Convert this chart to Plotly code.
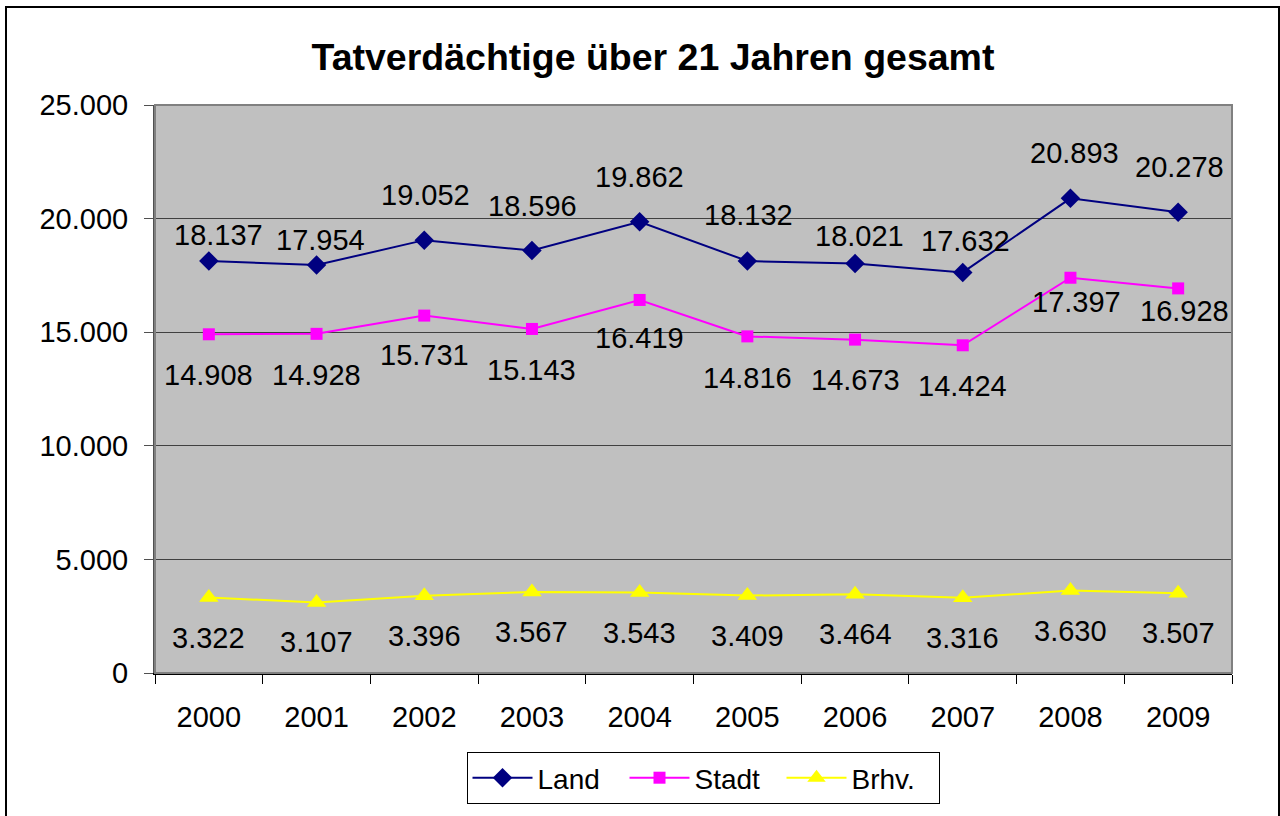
import plotly.graph_objects as go

# Jahre und Fallzahlen
years = ["2000", "2001", "2002", "2003", "2004", "2005", "2006", "2007", "2008", "2009"]
land = [18137, 17954, 19052, 18596, 19862, 18132, 18021, 17632, 20893, 20278]
stadt = [14908, 14928, 15731, 15143, 16419, 14816, 14673, 14424, 17397, 16928]
brhv = [3322, 3107, 3396, 3567, 3543, 3409, 3464, 3316, 3630, 3507]

# Vertikaler Abstand der Datenbeschriftungen zum Punkt (Pixel)
land_label_dy = [26, 25, 45, 45, 45, 46, 28, 31, 45, 45]
land_label_dx = [10, 4, 1, 1, 0, 1, 4, 3, 4, 1]
stadt_label_dy = [-41, -41, -39, -41, -38, -42, -40, -41, -24, -23]
stadt_label_dx = [0, 0, 0, 0, 0, 0, 0, 0, 6, 6]
brhv_label_dy = -40

FONT = "Liberation Sans, Arial, sans-serif"
LABEL_SIZE = 29

# Plotbereich in Pixeln
W, H = 1280, 816
L, R, T, B = 155, 1232, 105, 673
PW, PH = R - L, B - T


def px_x(x):
    return (x - L) / PW


def px_y(y):
    return (B - y) / PH


def fmt(v):
    return f"{v:,}".replace(",", ".")


fig = go.Figure()

series = [
    ("Land", land, "#000080", "diamond", 15),
    ("Stadt", stadt, "#FF00FF", "square", 12),
    ("Brhv.", brhv, "#FFFF00", "triangle-up", 17),
]
for name, vals, color, symbol, size in series:
    fig.add_trace(go.Scatter(
        x=years, y=vals, name=name, mode="lines+markers",
        line=dict(color=color, width=2),
        marker=dict(symbol=symbol, size=size, color=color,
                    line=dict(width=0)),
        hoverinfo="skip",
    ))

# Datenbeschriftungen (x als Kategorie-Index)
label_font = dict(family=FONT, size=LABEL_SIZE, color="black")
annotations = []
for i in range(len(years)):
    annotations.append(dict(x=i, y=land[i], text=fmt(land[i]), showarrow=False,
                            yshift=land_label_dy[i], xshift=land_label_dx[i],
                            font=label_font))
    annotations.append(dict(x=i, y=stadt[i], text=fmt(stadt[i]), showarrow=False,
                            yshift=stadt_label_dy[i], xshift=stadt_label_dx[i],
                            font=label_font))
    annotations.append(dict(x=i, y=brhv[i], text=fmt(brhv[i]), showarrow=False,
                            yshift=brhv_label_dy, font=label_font))

shapes = [
    # Rahmen des Plotbereichs
    dict(type="rect", xref="paper", yref="paper", x0=0, x1=1, y0=0, y1=1,
         line=dict(color="#808080", width=2), layer="above"),
    # Rahmen des gesamten Diagramms
    dict(type="rect", xref="paper", yref="paper",
         x0=px_x(6), x1=px_x(1279), y0=px_y(900), y1=px_y(7),
         line=dict(color="black", width=2)),
]

fig.update_layout(
    width=W, height=H,
    margin=dict(l=L, r=W - R, t=T, b=H - B),
    paper_bgcolor="white",
    plot_bgcolor="#C0C0C0",
    separators=",.",
    font=dict(family=FONT, size=28, color="black"),
    title=dict(text="<b>Tatverdächtige über 21 Jahren gesamt</b>",
               x=653 / W, xanchor="center", xref="container",
               y=1 - 57 / H, yanchor="middle", yref="container",
               font=dict(family=FONT, size=37.5, color="black")),
    showlegend=True,
    legend=dict(orientation="h", x=(703 - L) / PW, xanchor="center",
                y=px_y(752), yanchor="top",
                bordercolor="black", borderwidth=1, bgcolor="white",
                font=dict(family=FONT, size=28, color="black"),
                itemwidth=60, entrywidth=82, entrywidthmode="pixels",
                tracegroupgap=0),
    annotations=annotations,
    shapes=shapes,
)

fig.update_xaxes(
    type="category", range=[-0.5, 9.5],
    showgrid=False, zeroline=False,
    showline=True, linecolor="black", linewidth=2,
    ticks="outside", tickson="boundaries", ticklen=9, tickcolor="black", tickwidth=1,
    ticklabelstandoff=17,
    tickfont=dict(family=FONT, size=LABEL_SIZE, color="black"),
)
fig.update_yaxes(
    range=[0, 25000], tickvals=[0, 5000, 10000, 15000, 20000, 25000],
    tickformat=",d",
    showgrid=True, gridcolor="#404040", gridwidth=1, zeroline=False,
    showline=True, linecolor="#505050", linewidth=2,
    ticks="outside", ticklen=9, tickcolor="#505050", tickwidth=1,
    ticklabelstandoff=10,
    tickfont=dict(family=FONT, size=LABEL_SIZE, color="black"),
)

fig.write_html("out.html")
